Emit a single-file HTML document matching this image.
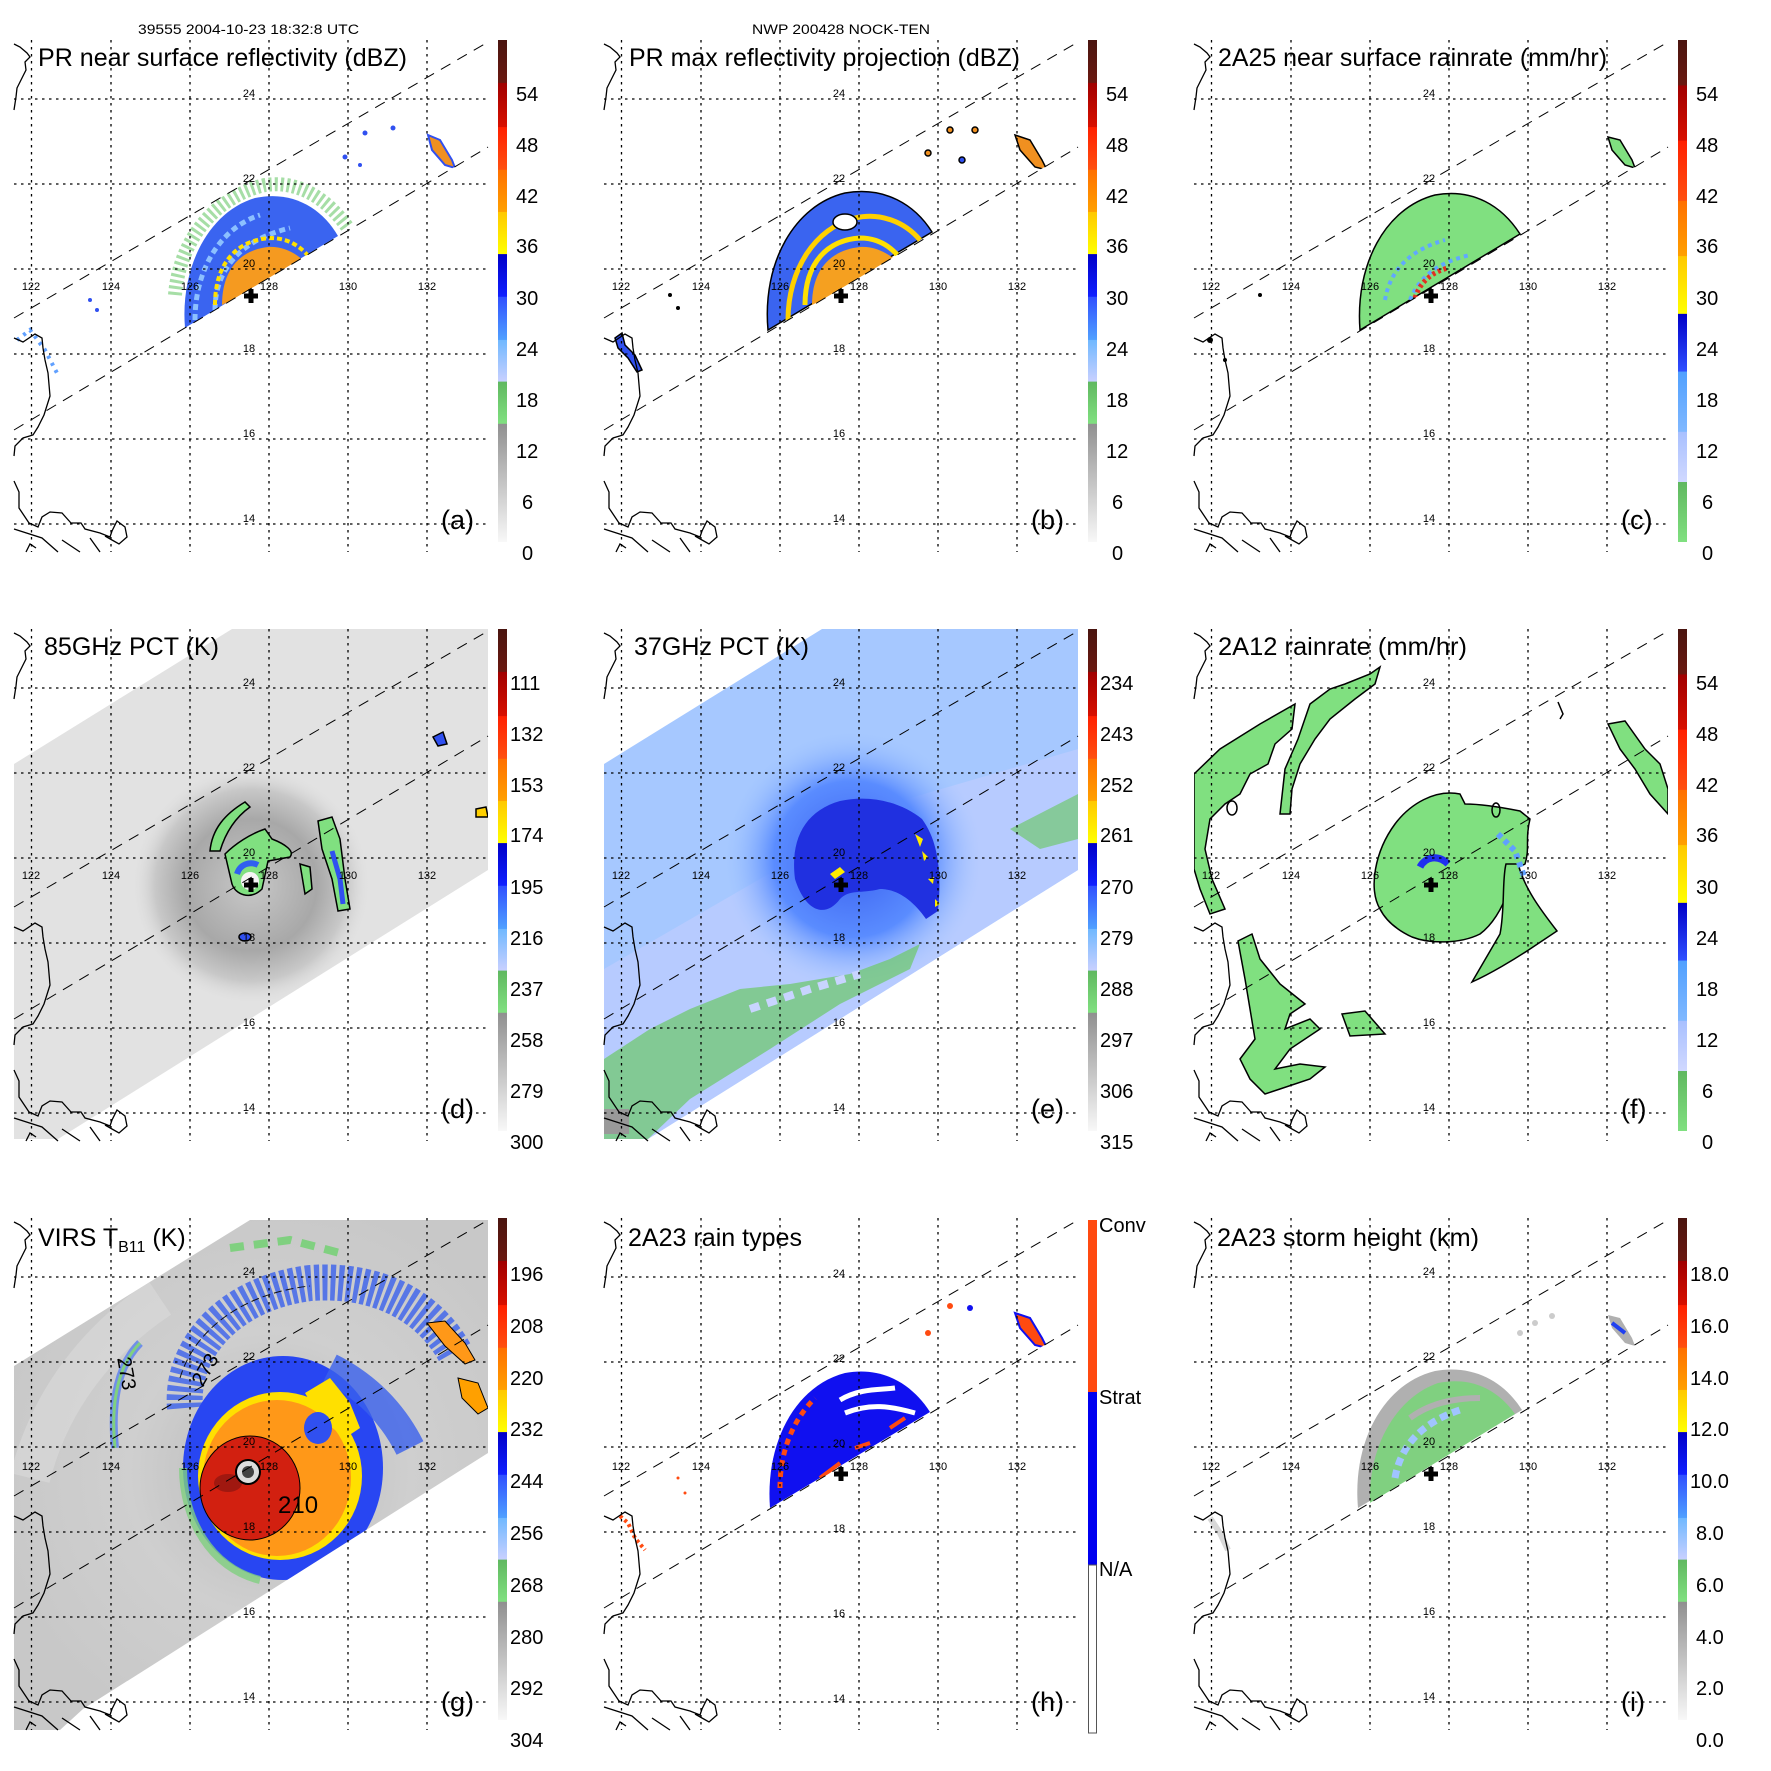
<!DOCTYPE html>
<html><head><meta charset="utf-8"><style>
html,body{margin:0;padding:0;background:#fff;}
svg{display:block;font-family:"Liberation Sans",sans-serif;}
.gr{fill:none;stroke:#000;stroke-width:1.3;stroke-dasharray:2.5 4.5;}
.sw{fill:none;stroke:#000;stroke-width:1;stroke-dasharray:11 8;}
.co{fill:none;stroke:#000;stroke-width:1.3;}
.ll{font-size:11px;text-anchor:middle;}
.cb{font-size:20px;}
.tt{font-size:25px;}
.lt{font-size:27px;}
.ol{stroke:#000;stroke-width:1.5;}
</style></head><body>
<svg width="1771" height="1771" viewBox="0 0 1771 1771" xmlns="http://www.w3.org/2000/svg">
<defs>
<linearGradient id="cbA" x1="0" y1="0" x2="0" y2="1">
<stop offset="0" stop-color="#4a1510"/><stop offset="0.085" stop-color="#6a1810"/>
<stop offset="0.086" stop-color="#a00000"/><stop offset="0.173" stop-color="#d81000"/>
<stop offset="0.174" stop-color="#ff2000"/><stop offset="0.258" stop-color="#ff5010"/>
<stop offset="0.259" stop-color="#ff7000"/><stop offset="0.342" stop-color="#ffa000"/>
<stop offset="0.343" stop-color="#ffc800"/><stop offset="0.426" stop-color="#ffff00"/>
<stop offset="0.427" stop-color="#0000c8"/><stop offset="0.511" stop-color="#1020ff"/>
<stop offset="0.512" stop-color="#3050ff"/><stop offset="0.597" stop-color="#50a0ff"/>
<stop offset="0.598" stop-color="#70b8ff"/><stop offset="0.68" stop-color="#c8d0ff"/>
<stop offset="0.681" stop-color="#60b860"/><stop offset="0.764" stop-color="#80e080"/>
<stop offset="0.765" stop-color="#909090"/><stop offset="1" stop-color="#f8f8f8"/>
</linearGradient>
<linearGradient id="cbC" x1="0" y1="0" x2="0" y2="1">
<stop offset="0" stop-color="#4a1510"/><stop offset="0.09" stop-color="#6a1810"/>
<stop offset="0.091" stop-color="#a00000"/><stop offset="0.2" stop-color="#d81000"/>
<stop offset="0.201" stop-color="#ff2000"/><stop offset="0.32" stop-color="#ff5010"/>
<stop offset="0.321" stop-color="#ff7000"/><stop offset="0.43" stop-color="#ffa000"/>
<stop offset="0.431" stop-color="#ffc800"/><stop offset="0.545" stop-color="#ffff00"/>
<stop offset="0.546" stop-color="#0000c8"/><stop offset="0.66" stop-color="#3050ff"/>
<stop offset="0.661" stop-color="#50a0ff"/><stop offset="0.78" stop-color="#80b8ff"/>
<stop offset="0.781" stop-color="#a8c0ff"/><stop offset="0.88" stop-color="#d0d8ff"/>
<stop offset="0.881" stop-color="#60b860"/><stop offset="1" stop-color="#80e080"/>
</linearGradient>
<radialGradient id="ringD" cx="251" cy="296" r="120" gradientUnits="userSpaceOnUse">
<stop offset="0" stop-color="#c8c8c8"/><stop offset="0.55" stop-color="#a8a8a8"/><stop offset="0.8" stop-color="#c8c8c8"/><stop offset="1" stop-color="#e2e2e2" stop-opacity="0"/>
</radialGradient>
<radialGradient id="ringE" cx="262" cy="270" r="130" gradientUnits="userSpaceOnUse">
<stop offset="0" stop-color="#3a60f0"/><stop offset="0.6" stop-color="#5a8cff"/><stop offset="1" stop-color="#a6c8ff" stop-opacity="0"/>
</radialGradient>
<radialGradient id="ringG" cx="270" cy="295" r="280" gradientUnits="userSpaceOnUse">
<stop offset="0" stop-color="#b8b8b8"/><stop offset="0.5" stop-color="#cfcfcf"/><stop offset="1" stop-color="#c8c8c8"/>
</radialGradient>
<clipPath id="swPR"><polygon points="14,318 488,42 488,147 14,430"/></clipPath>
<clipPath id="swTMI"><polygon points="14,175 232,40 488,40 488,281 58,550 14,550"/></clipPath>
<clipPath id="swV"><polygon points="14,188 250,42 488,42 488,275 83,531 60,552 14,552"/></clipPath>
<clipPath id="mapc"><rect x="14" y="40" width="474" height="512"/></clipPath>
<g id="grid">
<path class="gr" d="M31.5,40V552M111,40V552M190,40V552M269,40V552M348,40V552M427,40V552M14,99H488M14,184H488M14,269H488M14,354H488M14,439H488M14,524H488"/>
</g>
<g id="swath"><path class="sw" d="M14,318L488,42M14,430L488,147"/></g>
<g id="coast">
<path class="co" d="M14,44L20,47L27,53L30,57L25,62L26,70L22,78L17,88L16,97L14,110"/>
<path class="co" d="M14,338L23,342L35,334L42,338L43,348L45,360L48,373L50,396L44,415L38,427L33,435L23,438L15,446L14,456"/>
<path class="co" d="M14,481L19,492L19,508L29,523L38,527L42,517L50,512L62,513L71,523L81,523L85,529L100,533L110,537L112,531L117,521L125,527L127,537L119,544L112,540L105,536"/>
<path class="co" d="M14,529L42,538L58,552M26,552L30,544L36,548M62,540L80,552M90,538L100,552"/>
</g>
<g id="cross"><path d="M251,289V303M244,296H258" stroke="#000" stroke-width="5"/></g>
<g id="cbarA"><rect x="498" y="40" width="9" height="502" fill="url(#cbA)"/></g>
<g id="cbarC"><rect x="498" y="40" width="9" height="502" fill="url(#cbC)"/></g>
</defs>
<rect width="1771" height="1771" fill="#fff"/>

<text x="138" y="34" font-size="13.5" textLength="221" lengthAdjust="spacingAndGlyphs">39555 2004-10-23 18:32:8 UTC</text>
<text x="752" y="34" font-size="13.5" textLength="178" lengthAdjust="spacingAndGlyphs">NWP 200428 NOCK-TEN</text>

<!-- Panel a -->
<g transform="translate(0,0)">
<g clip-path="url(#swPR)">
<path d="M175,295 C180,235 220,195 265,185 C300,180 328,200 348,228" fill="none" stroke="#80d080" stroke-width="14" stroke-dasharray="3 3" opacity="0.7"/>
<path d="M185,328 C180,268 208,212 255,198 C292,190 322,208 338,236 Z" fill="#3a64f0"/>
<path d="M195,320 C195,270 220,228 260,215 M215,310 C215,270 240,240 290,228" fill="none" stroke="#8cc0ff" stroke-width="5" stroke-dasharray="6 4"/>
<path d="M222,305 C222,270 240,250 268,247 C285,246 298,255 305,262 Z" fill="#f59a20"/>
<path d="M215,305 C215,262 238,240 270,238 C290,238 302,248 310,258" fill="none" stroke="#ffe000" stroke-width="4" stroke-dasharray="5 3"/>
<path d="M428,135 L440,140 L452,160 L455,168 L445,165 L432,150 Z" fill="#f09020" stroke="#3050f0" stroke-width="2"/>
<path d="M17,340 L30,330 L45,350 L58,375" fill="none" stroke="#60a0ff" stroke-width="4" stroke-dasharray="3 5"/>
<circle cx="365" cy="133" r="2.5" fill="#3050f0"/><circle cx="393" cy="128" r="2.5" fill="#3050f0"/><circle cx="345" cy="157" r="2.5" fill="#3050f0"/><circle cx="360" cy="165" r="2" fill="#3050f0"/><circle cx="90" cy="300" r="2" fill="#3050f0"/><circle cx="97" cy="310" r="2" fill="#3050f0"/>
</g>
<use href="#grid"/><use href="#swath"/><use href="#coast"/><use href="#cross"/><use href="#cbarA"/>
<text class="tt" x="38" y="66" textLength="369" lengthAdjust="spacingAndGlyphs">PR near surface reflectivity (dBZ)</text>
<text class="lt" x="441" y="529">(a)</text>
<g class="cb"><text x="516" y="101">54</text><text x="516" y="152">48</text><text x="516" y="203">42</text><text x="516" y="253">36</text><text x="516" y="305">30</text><text x="516" y="356">24</text><text x="516" y="407">18</text><text x="516" y="458">12</text><text x="522" y="509">6</text><text x="522" y="560">0</text></g>
<g class="ll"><text x="31" y="290">122</text><text x="111" y="290">124</text><text x="190" y="290">126</text><text x="269" y="290">128</text><text x="348" y="290">130</text><text x="427" y="290">132</text><text x="249" y="97">24</text><text x="249" y="182">22</text><text x="249" y="267">20</text><text x="249" y="352">18</text><text x="249" y="437">16</text><text x="249" y="522">14</text></g>
</g>

<!-- Panel b -->
<g transform="translate(590,0)">
<g clip-path="url(#swPR)">
<path d="M178,330 C172,262 205,205 255,193 C295,186 325,205 342,232 Z" fill="#3a64f0" class="ol"/>
<path d="M198,320 C198,270 225,228 265,218 C290,212 315,222 330,240" fill="none" stroke="#ffd000" stroke-width="5"/>
<path d="M222,305 C222,268 242,250 270,247 C287,246 300,255 308,262 Z" fill="#f5a020"/>
<path d="M215,305 C215,262 238,240 270,238 C290,238 302,248 310,258" fill="none" stroke="#ffe000" stroke-width="5"/>
<ellipse cx="255" cy="222" rx="12" ry="8" fill="#fff" class="ol"/>
<path d="M425,135 L440,140 L452,160 L457,170 L445,167 L430,150 Z" fill="#f09020" class="ol"/>
<path d="M25,338 L32,333 L35,345 L45,355 L52,370 L47,372 L38,358 L28,348 Z" fill="#3050f0" class="ol"/>
<circle cx="360" cy="130" r="3" fill="#f09020" class="ol"/><circle cx="385" cy="130" r="3" fill="#f09020" class="ol"/><circle cx="338" cy="153" r="3" fill="#f09020" class="ol"/><circle cx="372" cy="160" r="3" fill="#3050f0" class="ol"/><circle cx="80" cy="295" r="2" fill="#000"/><circle cx="88" cy="308" r="2" fill="#000"/>
</g>
<use href="#grid"/><use href="#swath"/><use href="#coast"/><use href="#cross"/><use href="#cbarA"/>
<text class="tt" x="39" y="66" textLength="391" lengthAdjust="spacingAndGlyphs">PR max reflectivity projection (dBZ)</text>
<text class="lt" x="441" y="529">(b)</text>
<g class="cb"><text x="516" y="101">54</text><text x="516" y="152">48</text><text x="516" y="203">42</text><text x="516" y="253">36</text><text x="516" y="305">30</text><text x="516" y="356">24</text><text x="516" y="407">18</text><text x="516" y="458">12</text><text x="522" y="509">6</text><text x="522" y="560">0</text></g>
<g class="ll"><text x="31" y="290">122</text><text x="111" y="290">124</text><text x="190" y="290">126</text><text x="269" y="290">128</text><text x="348" y="290">130</text><text x="427" y="290">132</text><text x="249" y="97">24</text><text x="249" y="182">22</text><text x="249" y="267">20</text><text x="249" y="352">18</text><text x="249" y="437">16</text><text x="249" y="522">14</text></g>
</g>

<!-- Panel c -->
<g transform="translate(1180,0)">
<g clip-path="url(#swPR)">
<path d="M180,330 C175,265 205,208 255,195 C293,188 322,206 340,234 Z" fill="#80e080" class="ol"/>
<path d="M205,300 C210,270 230,250 265,240 M230,300 C240,275 260,262 290,255" fill="none" stroke="#60a8ff" stroke-width="4" stroke-dasharray="4 4"/>
<path d="M235,298 C240,282 252,272 268,268" fill="none" stroke="#e03020" stroke-width="5" stroke-dasharray="3 3"/>
<path d="M428,137 L440,140 L452,160 L455,168 L445,165 L432,150 Z" fill="#80e080" class="ol"/>
<circle cx="80" cy="295" r="2" fill="#000"/><circle cx="30" cy="340" r="3" fill="#000"/><circle cx="45" cy="360" r="2" fill="#000"/>
</g>
<use href="#grid"/><use href="#swath"/><use href="#coast"/><use href="#cross"/><use href="#cbarC"/>
<text class="tt" x="38" y="66" textLength="389" lengthAdjust="spacingAndGlyphs">2A25 near surface rainrate (mm/hr)</text>
<text class="lt" x="441" y="529">(c)</text>
<g class="cb"><text x="516" y="101">54</text><text x="516" y="152">48</text><text x="516" y="203">42</text><text x="516" y="253">36</text><text x="516" y="305">30</text><text x="516" y="356">24</text><text x="516" y="407">18</text><text x="516" y="458">12</text><text x="522" y="509">6</text><text x="522" y="560">0</text></g>
<g class="ll"><text x="31" y="290">122</text><text x="111" y="290">124</text><text x="190" y="290">126</text><text x="269" y="290">128</text><text x="348" y="290">130</text><text x="427" y="290">132</text><text x="249" y="97">24</text><text x="249" y="182">22</text><text x="249" y="267">20</text><text x="249" y="352">18</text><text x="249" y="437">16</text><text x="249" y="522">14</text></g>
</g>

<!-- Panel d -->
<g transform="translate(0,589)">
<g clip-path="url(#swTMI)">
<rect x="14" y="40" width="474" height="512" fill="#e2e2e2"/>
<circle cx="251" cy="296" r="120" fill="url(#ringD)"/>
<path d="M210,262 C212,240 225,225 245,213 L250,218 C236,228 226,242 220,262 Z" fill="#80e080" class="ol"/>
<path d="M225,265 C235,255 250,245 265,240 L272,250 C285,255 295,262 290,268 L268,272 L262,300 C250,312 235,305 232,295 Z" fill="#80e080" class="ol"/>
<path d="M237,285 C240,275 250,272 258,276" fill="none" stroke="#3060f0" stroke-width="6"/>
<circle cx="250" cy="292" r="9" fill="#f4f4f4"/>
<path d="M318,232 L332,228 L340,250 L345,290 L350,320 L338,322 L332,290 L322,260 Z" fill="#80e080" class="ol"/>
<path d="M332,262 L340,290 L343,315" fill="none" stroke="#3050f0" stroke-width="5"/>
<path d="M300,275 L310,278 L312,300 L305,305 Z" fill="#80e080" class="ol"/>
<path d="M433,148 L443,143 L447,155 L438,157 Z" fill="#3050f0" class="ol"/>
<path d="M476,220 L486,218 L488,228 L476,228 Z" fill="#ffd000" class="ol"/>
<ellipse cx="245" cy="348" rx="6" ry="4" fill="#3050f0" class="ol"/>
</g>
<use href="#grid"/><use href="#swath"/><use href="#coast"/><use href="#cross"/><use href="#cbarA"/>
<text class="tt" x="44" y="66" textLength="175" lengthAdjust="spacingAndGlyphs">85GHz PCT (K)</text>
<text class="lt" x="441" y="529">(d)</text>
<g class="cb"><text x="510" y="101">111</text><text x="510" y="152">132</text><text x="510" y="203">153</text><text x="510" y="253">174</text><text x="510" y="305">195</text><text x="510" y="356">216</text><text x="510" y="407">237</text><text x="510" y="458">258</text><text x="510" y="509">279</text><text x="510" y="560">300</text></g>
<g class="ll"><text x="31" y="290">122</text><text x="111" y="290">124</text><text x="190" y="290">126</text><text x="269" y="290">128</text><text x="348" y="290">130</text><text x="427" y="290">132</text><text x="249" y="97">24</text><text x="249" y="182">22</text><text x="249" y="267">20</text><text x="249" y="352">18</text><text x="249" y="437">16</text><text x="249" y="522">14</text></g>
</g>

<!-- Panel e -->
<g transform="translate(590,589)">
<g clip-path="url(#swTMI)">
<rect x="14" y="40" width="474" height="512" fill="#a6c8ff"/>
<polygon points="14,380 300,215 488,160 488,281 58,550 14,550" fill="#bcccff" opacity="0.8"/>
<circle cx="262" cy="270" r="130" fill="url(#ringE)"/>
<path d="M205,290 C200,250 215,222 250,212 C282,205 312,214 332,230 C348,252 352,282 348,322 L336,330 C322,310 306,300 290,300 C270,305 260,300 250,310 C235,330 215,322 205,290 Z" fill="#2030e0"/>
<path d="M240,285 L250,278 L255,283 L245,290 Z M325,245 L333,250 L330,258 Z M332,262 L338,268 L334,272 Z M338,290 L344,288 L343,295 Z M345,310 L350,315 L345,318 Z" fill="#ffea00"/>
<path d="M14,470 L60,440 L100,420 L150,400 L200,395 L260,385 L300,370 L330,355 L320,380 L250,415 L180,460 L100,510 L58,550 L14,550 Z" fill="#70c870" opacity="0.75"/>
<path d="M420,240 L488,205 L488,250 L450,260 Z" fill="#70c870" opacity="0.7"/>
<path d="M160,420 L220,400 L270,385" fill="none" stroke="#c8d4ff" stroke-width="8" stroke-dasharray="10 8"/>
<rect x="14" y="520" width="25" height="25" fill="#999"/>
</g>
<use href="#grid"/><use href="#swath"/><use href="#coast"/><use href="#cross"/><use href="#cbarA"/>
<text class="tt" x="44" y="66" textLength="175" lengthAdjust="spacingAndGlyphs">37GHz PCT (K)</text>
<text class="lt" x="441" y="529">(e)</text>
<g class="cb"><text x="510" y="101">234</text><text x="510" y="152">243</text><text x="510" y="203">252</text><text x="510" y="253">261</text><text x="510" y="305">270</text><text x="510" y="356">279</text><text x="510" y="407">288</text><text x="510" y="458">297</text><text x="510" y="509">306</text><text x="510" y="560">315</text></g>
<g class="ll"><text x="31" y="290">122</text><text x="111" y="290">124</text><text x="190" y="290">126</text><text x="269" y="290">128</text><text x="348" y="290">130</text><text x="427" y="290">132</text><text x="249" y="97">24</text><text x="249" y="182">22</text><text x="249" y="267">20</text><text x="249" y="352">18</text><text x="249" y="437">16</text><text x="249" y="522">14</text></g>
</g>

<!-- Panel f -->
<g transform="translate(1180,589)">
<g clip-path="url(#mapc)">
<path d="M200,320 C188,300 195,262 215,235 C230,215 255,200 280,205 L285,215 C300,215 320,218 340,222 L350,230 C345,250 350,260 345,275 L335,280 C330,300 320,330 300,345 C280,355 250,355 232,348 C215,340 205,330 200,320 Z" fill="#80e080" class="ol"/>
<path d="M320,345 C325,320 322,290 326,275 L338,275 C345,300 360,320 377,342 L350,360 C335,370 310,385 292,393 Z" fill="#80e080" class="ol"/>
<path d="M240,278 C245,268 258,265 268,275" fill="none" stroke="#2030f0" stroke-width="7"/>
<path d="M318,245 L335,262 L345,290" fill="none" stroke="#60a0ff" stroke-width="6" stroke-dasharray="5 4"/>
<path d="M14,185 L40,160 L80,135 L115,115 L112,140 L95,155 L88,175 L70,185 L60,205 L45,215 L30,230 L25,260 L32,290 L45,320 L30,325 L20,300 L14,280 Z" fill="#80e080" class="ol"/>
<path d="M100,225 L105,180 L118,150 L130,115 L150,100 L165,95 L190,85 L200,78 L195,95 L175,110 L150,130 L135,150 L120,175 L112,200 L110,225 Z" fill="#80e080" class="ol"/>
<path d="M58,352 L72,345 L80,370 L100,395 L125,415 L110,425 L105,440 L130,430 L140,440 L110,460 L95,480 L120,475 L145,478 L130,490 L100,500 L85,505 L70,490 L60,470 L75,450 L70,420 L65,390 Z" fill="#80e080" class="ol"/>
<path d="M162,425 L185,422 L205,445 L170,447 Z" fill="#80e080" class="ol"/>
<path d="M428,135 L445,132 L465,160 L480,175 L488,200 L488,225 L470,205 L455,180 L440,160 Z" fill="#80e080" class="ol"/>
<ellipse cx="52" cy="219" rx="5" ry="7" fill="#fff" class="ol"/>
<ellipse cx="316" cy="221" rx="4" ry="7" fill="none" class="ol"/>
<path d="M378,113 L383,125 L380,130" fill="none" class="ol"/>
</g>
<use href="#grid"/><use href="#swath"/><use href="#coast"/><use href="#cross"/><use href="#cbarC"/>
<text class="tt" x="38" y="66" textLength="249" lengthAdjust="spacingAndGlyphs">2A12 rainrate (mm/hr)</text>
<text class="lt" x="441" y="529">(f)</text>
<g class="cb"><text x="516" y="101">54</text><text x="516" y="152">48</text><text x="516" y="203">42</text><text x="516" y="253">36</text><text x="516" y="305">30</text><text x="516" y="356">24</text><text x="516" y="407">18</text><text x="516" y="458">12</text><text x="522" y="509">6</text><text x="522" y="560">0</text></g>
<g class="ll"><text x="31" y="290">122</text><text x="111" y="290">124</text><text x="190" y="290">126</text><text x="269" y="290">128</text><text x="348" y="290">130</text><text x="427" y="290">132</text><text x="249" y="97">24</text><text x="249" y="182">22</text><text x="249" y="267">20</text><text x="249" y="352">18</text><text x="249" y="437">16</text><text x="249" y="522">14</text></g>
</g>

<!-- Panel g -->
<g transform="translate(0,1178)">
<g clip-path="url(#swV)">
<rect x="14" y="40" width="474" height="512" fill="url(#ringG)"/>
<path d="M30,300 C50,220 100,160 160,120" fill="none" stroke="#dadada" stroke-width="40" opacity="0.6"/>
<path d="M115,270 C110,220 120,185 140,165" fill="none" stroke="#5a80f0" stroke-width="8" opacity="0.8"/>
<path d="M115,270 C110,220 120,185 140,165" fill="none" stroke="#80d080" stroke-width="3"/>
<path d="M185,230 C180,170 230,115 310,105 C380,100 430,130 455,175" fill="none" stroke="#3a60ec" stroke-width="36" stroke-dasharray="5 3" opacity="0.8"/>
<path d="M180,200 C195,150 245,115 310,108" fill="none" stroke="#111" stroke-width="1" stroke-dasharray="8 4"/>
<path d="M230,70 L290,62 L340,75" fill="none" stroke="#80d080" stroke-width="8" stroke-dasharray="14 10"/>
<ellipse cx="283" cy="290" rx="100" ry="112" fill="#2846f2"/>
<path d="M183,290 C183,340 210,390 260,402" fill="none" stroke="#80d080" stroke-width="8" opacity="0.8"/>
<path d="M330,190 C370,210 395,240 410,270" fill="none" stroke="#3a60ec" stroke-width="30" opacity="0.8"/>
<ellipse cx="280" cy="298" rx="82" ry="84" fill="#ffe000"/>
<ellipse cx="277" cy="300" rx="74" ry="78" fill="#ff9818"/>
<path d="M305,215 L330,200 L350,225 L360,250 L345,260 L320,240 Z" fill="#ffe000"/>
<ellipse cx="318" cy="250" rx="14" ry="16" fill="#3050f0"/>
<ellipse cx="250" cy="310" rx="50" ry="52" fill="#d22010"/>
<ellipse cx="250" cy="310" rx="50" ry="52" fill="none" stroke="#000" stroke-width="1"/>
<ellipse cx="228" cy="305" rx="14" ry="9" fill="#a01810"/>
<circle cx="248" cy="294" r="12" fill="#ddd" stroke="#000" stroke-width="2"/>
<circle cx="248" cy="294" r="6" fill="#444"/>
<path d="M427,145 L445,143 L465,165 L475,182 L465,186 L445,168 Z" fill="#ff9818" stroke="#000" stroke-width="1"/>
<path d="M458,200 L478,205 L488,230 L478,236 L462,220 Z" fill="#ffa000" stroke="#000" stroke-width="1"/>
</g>
<use href="#grid"/><use href="#swath"/><use href="#coast"/>
<text x="278" y="335" font-size="24" fill="#000">210</text>
<text x="113" y="185" font-size="20" fill="#000" transform="rotate(80 118 185)">273</text>
<text x="200" y="205" font-size="20" fill="#000" transform="rotate(-60 205 205)">273</text>
<use href="#cbarA"/>
<text class="tt" x="38" y="68">VIRS T<tspan font-size="16" dy="6">B11</tspan><tspan dy="-6"> (K)</tspan></text>
<text class="lt" x="441" y="533">(g)</text>
<g class="cb"><text x="510" y="103">196</text><text x="510" y="155">208</text><text x="510" y="207">220</text><text x="510" y="258">232</text><text x="510" y="310">244</text><text x="510" y="362">256</text><text x="510" y="414">268</text><text x="510" y="466">280</text><text x="510" y="517">292</text><text x="510" y="569">304</text></g>
<g class="ll"><text x="31" y="292">122</text><text x="111" y="292">124</text><text x="190" y="292">126</text><text x="269" y="292">128</text><text x="348" y="292">130</text><text x="427" y="292">132</text><text x="249" y="97">24</text><text x="249" y="182">22</text><text x="249" y="267">20</text><text x="249" y="352">18</text><text x="249" y="437">16</text><text x="249" y="522">14</text></g>
</g>

<!-- Panel h -->
<g transform="translate(590,1178)">
<g clip-path="url(#swPR)">
<path d="M180,330 C175,265 205,208 255,195 C293,188 322,206 340,234 Z" fill="#1010f0"/>
<path d="M255,235 C280,225 300,228 325,235 M250,222 C270,210 290,212 305,210" fill="none" stroke="#fff" stroke-width="5"/>
<path d="M190,310 C190,270 205,240 225,220" fill="none" stroke="#ff4a10" stroke-width="5" stroke-dasharray="6 5"/>
<path d="M230,300 L250,285 M265,270 L280,265 M300,250 L315,240" fill="none" stroke="#ff4a10" stroke-width="4"/>
<path d="M425,135 L440,140 L452,160 L457,170 L445,167 L430,150 Z" fill="#ff4a10" stroke="#1010f0" stroke-width="2"/>
<path d="M30,338 L38,345 L45,360 L55,372" fill="none" stroke="#ff4a10" stroke-width="4" stroke-dasharray="3 3"/>
<circle cx="338" cy="155" r="3" fill="#ff4a10"/><circle cx="360" cy="128" r="3" fill="#ff4a10"/><circle cx="380" cy="130" r="3" fill="#1010f0"/><circle cx="88" cy="300" r="1.5" fill="#ff4a10"/><circle cx="95" cy="315" r="1.5" fill="#ff4a10"/>
</g>
<use href="#grid"/><use href="#swath"/><use href="#coast"/><use href="#cross"/>
<rect x="498" y="42" width="9" height="172" fill="#ff4a10"/>
<rect x="498" y="214" width="9" height="173" fill="#0000f0"/>
<rect x="498.5" y="387" width="8" height="168" fill="#fff" stroke="#555" stroke-width="1"/>
<g class="cb"><text x="509" y="54">Conv</text><text x="509" y="226">Strat</text><text x="509" y="398">N/A</text></g>
<text class="tt" x="38" y="68" textLength="174" lengthAdjust="spacingAndGlyphs">2A23 rain types</text>
<text class="lt" x="441" y="533">(h)</text>
<g class="ll"><text x="31" y="292">122</text><text x="111" y="292">124</text><text x="190" y="292">126</text><text x="269" y="292">128</text><text x="348" y="292">130</text><text x="427" y="292">132</text><text x="249" y="99">24</text><text x="249" y="184">22</text><text x="249" y="269">20</text><text x="249" y="354">18</text><text x="249" y="439">16</text><text x="249" y="524">14</text></g>
</g>

<!-- Panel i -->
<g transform="translate(1180,1178)">
<g clip-path="url(#swPR)">
<path d="M178,330 C172,262 205,205 255,193 C295,186 325,205 342,232 Z" fill="#b0b0b0"/>
<path d="M190,325 C188,270 215,220 258,205 C292,198 318,212 335,236 Z" fill="#80d080"/>
<path d="M215,300 C220,270 240,245 280,232" fill="none" stroke="#a0c4ff" stroke-width="7" stroke-dasharray="8 5"/>
<path d="M230,240 C250,225 275,220 300,220" fill="none" stroke="#b0b0b0" stroke-width="6"/>
<path d="M240,300 L270,285" stroke="#2040f0" stroke-width="5"/>
<path d="M428,137 L440,140 L452,160 L455,168 L445,165 L432,150 Z" fill="#b0b0b0"/>
<path d="M432,145 L445,155" stroke="#2040f0" stroke-width="4"/>
<path d="M30,340 L40,355 L48,372" fill="none" stroke="#d8d8d8" stroke-width="6"/>
<circle cx="355" cy="145" r="3" fill="#ccc"/><circle cx="340" cy="155" r="3" fill="#ccc"/><circle cx="372" cy="138" r="3" fill="#ccc"/>
</g>
<use href="#grid"/><use href="#swath"/><use href="#coast"/><use href="#cross"/><use href="#cbarA"/>
<text class="tt" x="37" y="68" textLength="262" lengthAdjust="spacingAndGlyphs">2A23 storm height (km)</text>
<text class="lt" x="441" y="533">(i)</text>
<g class="cb"><text x="510" y="103">18.0</text><text x="510" y="155">16.0</text><text x="510" y="207">14.0</text><text x="510" y="258">12.0</text><text x="510" y="310">10.0</text><text x="516" y="362">8.0</text><text x="516" y="414">6.0</text><text x="516" y="466">4.0</text><text x="516" y="517">2.0</text><text x="516" y="569">0.0</text></g>
<g class="ll"><text x="31" y="292">122</text><text x="111" y="292">124</text><text x="190" y="292">126</text><text x="269" y="292">128</text><text x="348" y="292">130</text><text x="427" y="292">132</text><text x="249" y="97">24</text><text x="249" y="182">22</text><text x="249" y="267">20</text><text x="249" y="352">18</text><text x="249" y="437">16</text><text x="249" y="522">14</text></g>
</g>
</svg>
</body></html>
